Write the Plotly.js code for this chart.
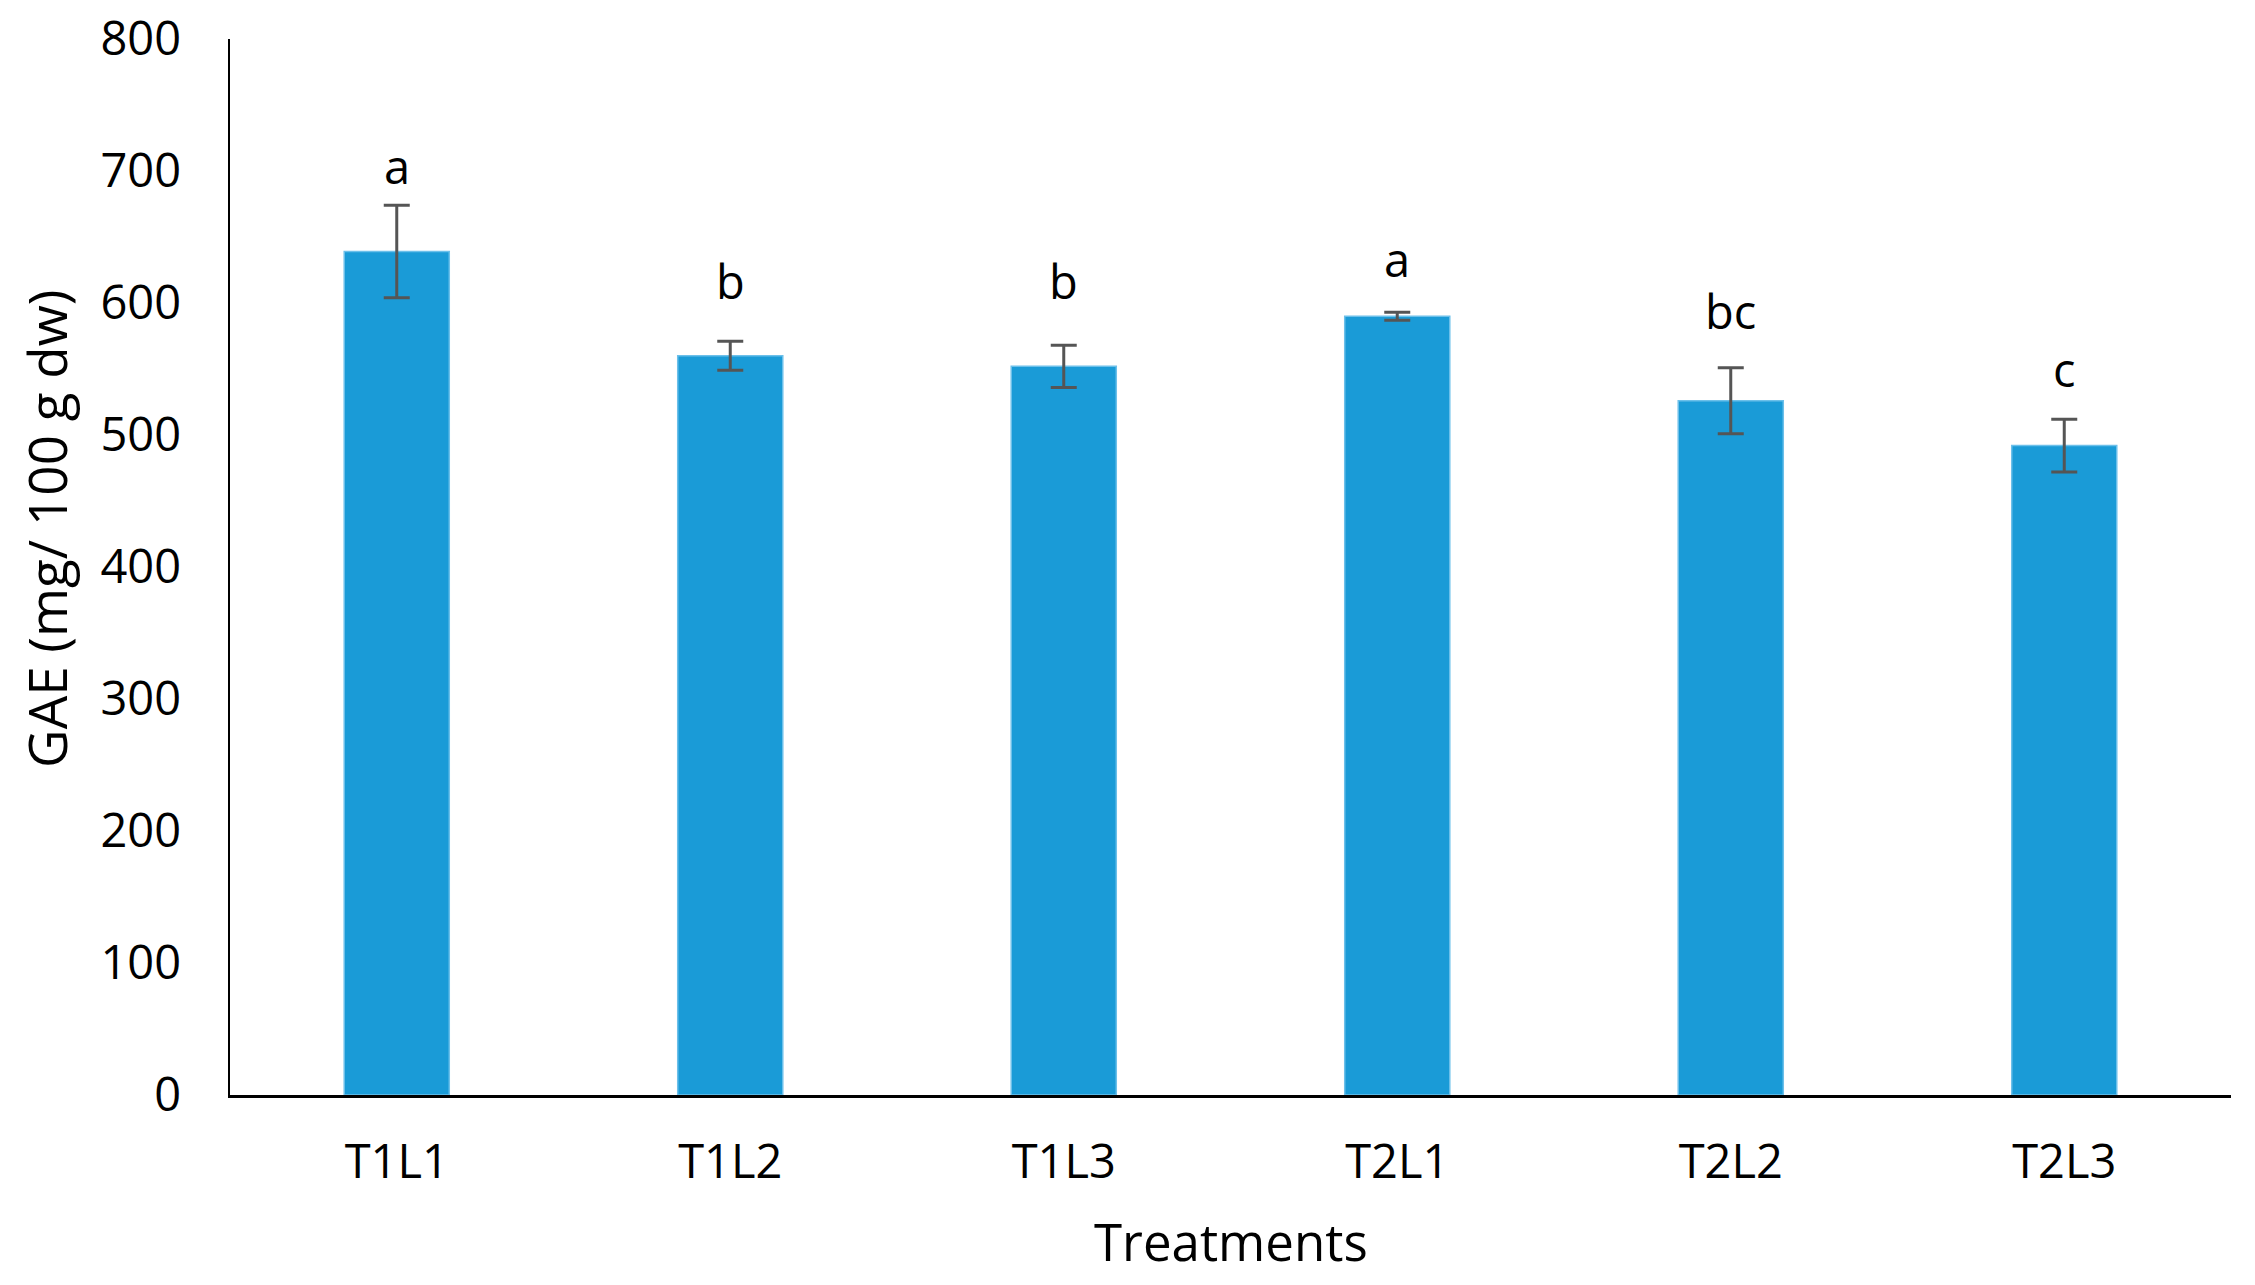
<!DOCTYPE html>
<html>
<head>
<meta charset="utf-8">
<script src="https://cdn.plot.ly/plotly-3.0.1.min.js"></script>
<style>
  html, body { margin: 0; padding: 0; background: #ffffff; }
  #chart { width: 2255px; height: 1285px; }
</style>
</head>
<body>
<div id="chart"></div>
<script>
// ---- data ----
var treatments = ["T1L1", "T1L2", "T1L3", "T2L1", "T2L2", "T2L3"];
var gaeMeans   = [639, 560, 552, 590, 526, 492];
var gaeErrors  = [35, 11, 16, 3, 25, 20];
var letters    = ["a", "b", "b", "a", "bc", "c"];
var letterY    = [704, 617, 617, 633, 594, 550];
var yTicks     = [0, 100, 200, 300, 400, 500, 600, 700, 800];

var FONT = "Open Sans, Lato, DejaVu Sans, sans-serif";

var trace = {
  type: "bar",
  x: treatments,
  y: gaeMeans,
  marker: { color: "#1a9bd7", line: { color: "#6cc0ea", width: 1.5 } },
  error_y: {
    type: "data",
    array: gaeErrors,
    visible: true,
    color: "#555555",
    thickness: 3,
    width: 13
  },
  hoverinfo: "x+y"
};

var annotations = letters.map(function (t, i) {
  return {
    x: treatments[i], y: letterY[i], xref: "x", yref: "y",
    text: t, showarrow: false, xanchor: "center", yanchor: "middle",
    font: { family: FONT, size: 47, color: "#000000" }
  };
});

annotations.push({
  xref: "paper", yref: "paper", x: -0.0915, y: 0.536,
  text: "GAE (mg/ 100 g dw)", textangle: -90, showarrow: false,
  xanchor: "center", yanchor: "middle",
  font: { family: FONT, size: 53, color: "#000000" }
});
annotations.push({
  xref: "paper", yref: "paper", x: 0.5, y: -0.138,
  text: "Treatments", showarrow: false,
  xanchor: "center", yanchor: "middle",
  font: { family: FONT, size: 51, color: "#000000" }
});

var layout = {
  width: 2255, height: 1285,
  margin: { l: 230, r: 24, t: 39, b: 190, pad: 0 },
  paper_bgcolor: "#ffffff",
  plot_bgcolor: "#ffffff",
  showlegend: false,
  bargap: 0.685,
  font: { family: FONT, size: 47, color: "#000000" },
  xaxis: {
    type: "category",
    range: [-0.5, 5.5],
    showline: true, linecolor: "#000000", linewidth: 2.5,
    showgrid: false, zeroline: false,
    ticks: "", ticklabelstandoff: 24,
    tickfont: { family: FONT, size: 47, color: "#000000" }
  },
  yaxis: {
    range: [0, 800],
    tickvals: yTicks,
    showline: true, linecolor: "#000000", linewidth: 2.5,
    showgrid: false, zeroline: false,
    ticks: "", ticklabelstandoff: 37,
    tickfont: { family: FONT, size: 47, color: "#000000" }
  },
  annotations: annotations
};

Plotly.newPlot("chart", [trace], layout, { displayModeBar: false, staticPlot: true });
</script>
</body>
</html>
